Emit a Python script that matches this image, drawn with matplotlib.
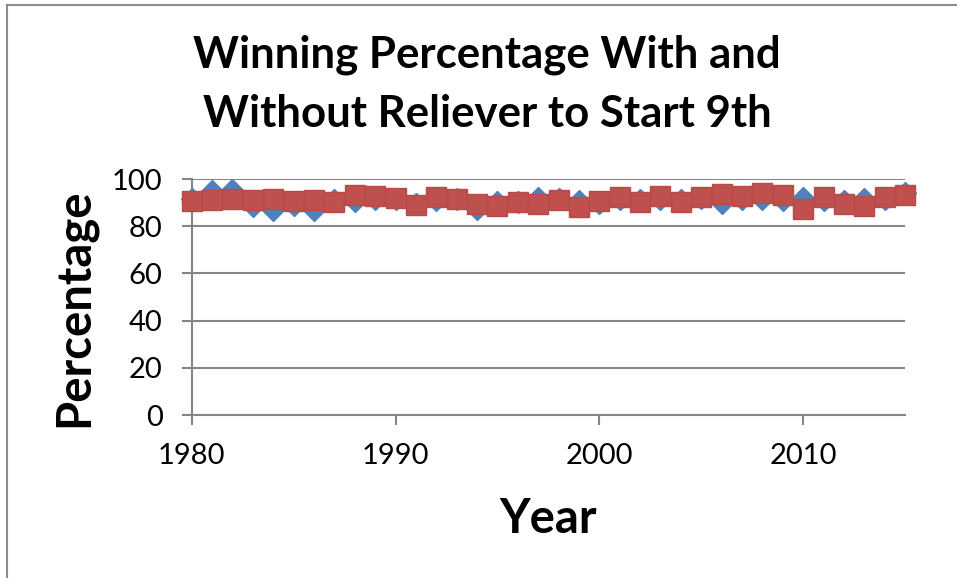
import matplotlib.pyplot as plt
from matplotlib.lines import Line2D

plt.rcParams['font.family'] = ['Lato', 'DejaVu Sans']

years = list(range(1980, 2016))

# without reliever (blue diamonds)
without_rel = [91.5, 94.8, 95.3, 88.6, 86.9, 88.9, 86.9, 91.1, 90.7, 91.4,
               91.4, 89.4, 91.1, 91.7, 87.4, 90.3, 90.3, 92.0, 91.4, 90.6,
               90.0, 91.7, 91.1, 91.7, 91.1, 92.1, 89.7, 91.4, 91.4, 91.1,
               92.0, 91.1, 90.8, 91.7, 91.7, 93.9]

# with reliever (red squares)
with_rel = [90.8, 91.1, 91.4, 91.2, 91.4, 90.8, 90.9, 90.2, 93.1, 92.6,
            91.8, 89.1, 92.2, 91.6, 89.4, 88.5, 90.1, 89.6, 91.2, 88.2,
            90.8, 92.2, 90.2, 92.8, 90.1, 92.2, 93.6, 92.8, 94.2, 93.3,
            87.5, 92.5, 89.4, 88.4, 92.5, 93.3]

xticks = [1980, 1990, 2000, 2010]
yticks = [0, 20, 40, 60, 80, 100]

grey = '#868686'

fig = plt.figure(figsize=(9.57, 5.78), dpi=100)
ax = fig.add_axes([0.2003, 0.282, 0.7454, 0.4083])

ax.plot(years, without_rel, linestyle='none', marker='D', markersize=11,
        color='#4F81BD', markeredgecolor='#4F81BD', zorder=3, clip_on=False)
ax.plot(years, with_rel, linestyle='none', marker='s', markersize=14.5,
        color='#C0504D', markeredgecolor='#B94A47', markeredgewidth=1, zorder=4, clip_on=False)

ax.set_xlim(1980, 2015)
ax.set_ylim(0, 100)
ax.set_xticks(xticks)
ax.set_yticks(yticks)
ax.tick_params(axis='both', labelsize=21, color=grey, length=7, width=1.5)
ax.tick_params(axis='x', pad=13)
ax.tick_params(axis='y', pad=14)
ax.grid(axis='y', color=grey, linewidth=1.5)
ax.set_axisbelow(True)
for s in ['top', 'right']:
    ax.spines[s].set_visible(False)
for s in ['left', 'bottom']:
    ax.spines[s].set_color(grey)
    ax.spines[s].set_linewidth(1.5)

fig.text(0.509, 0.8824, 'Winning Percentage With and', ha='center', va='baseline',
         fontsize=31.5, fontweight='bold')
fig.text(0.509, 0.780, 'Without Reliever to Start 9th', ha='center', va='baseline',
         fontsize=31.5, fontweight='bold')
fig.text(0.573, 0.0779, 'Year', ha='center', va='baseline', fontsize=34, fontweight='bold')
fig.text(0.078, 0.468, 'Percentage', ha='center', va='center', rotation=90,
         fontsize=34, fontweight='bold')

# outer chart border (only left and top visible)
fig.add_artist(Line2D([0.0073, 0.0073], [0, 0.991], transform=fig.transFigure,
                      color='#8c8c8c', linewidth=1.5))
fig.add_artist(Line2D([0.0073, 1], [0.991, 0.991], transform=fig.transFigure,
                      color='#8c8c8c', linewidth=1.5))

fig.savefig('out.png', dpi=100)
